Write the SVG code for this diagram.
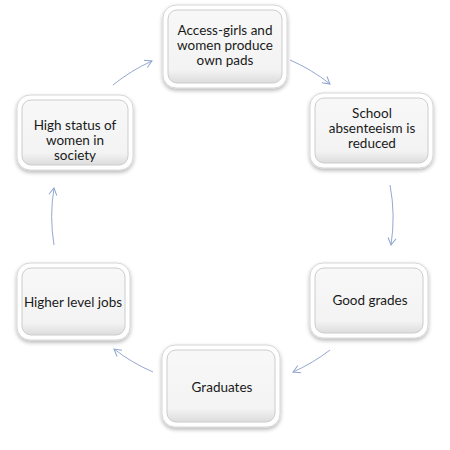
<svg xmlns="http://www.w3.org/2000/svg" width="450" height="450" viewBox="0 0 450 450">
<defs>
<linearGradient id="g" x1="0" y1="0" x2="0" y2="1">
<stop offset="0" stop-color="#f8f8f8"/>
<stop offset="0.82" stop-color="#f3f3f3"/>
<stop offset="1" stop-color="#dcdcdc"/>
</linearGradient>
<filter id="sh" x="-10%" y="-10%" width="120%" height="125%">
<feGaussianBlur in="SourceAlpha" stdDeviation="2"/>
<feOffset dy="1.5"/>
<feComponentTransfer><feFuncA type="linear" slope="0.3"/></feComponentTransfer>
<feMerge><feMergeNode/><feMergeNode in="SourceGraphic"/></feMerge>
</filter>
<marker id="ah" markerWidth="10" markerHeight="10" refX="8" refY="5" orient="auto" markerUnits="userSpaceOnUse">
<path d="M1,1 L8,5 L1,9" fill="none" stroke="#8ea3cc" stroke-width="1"/>
</marker>
</defs>
<style>
.outer{fill:#ffffff;stroke:#d6d6d6;stroke-width:1;filter:url(#sh)}
.inner{fill:url(#g);stroke:#cccccc;stroke-width:1}
.t{font-family:Lato,"Liberation Sans",sans-serif;font-size:13.5px;fill:#1a1a1a;text-anchor:middle}
.c{fill:none;stroke:#95a8d0;stroke-width:1;marker-end:url(#ah)}
</style>
<rect width="450" height="450" fill="#ffffff"/>
<g id="connectors">
<path class="c" d="M113,85 A178,178 0 0 1 152,61"/>
<path class="c" d="M290,60 A178,178 0 0 1 330,84"/>
<path class="c" d="M390,185 A175,175 0 0 1 391,245"/>
<path class="c" d="M330,350 A178,178 0 0 1 293,372"/>
<path class="c" d="M153,372 A178,178 0 0 1 114,349"/>
<path class="c" d="M54,245 A175,175 0 0 1 54,188"/>
</g>
<g id="n1">
<rect class="outer" x="163" y="5" width="124" height="83" rx="13"/>
<rect class="inner" x="168" y="10" width="114" height="73" rx="9"/>
<text class="t" x="225" y="35">Access-girls and</text>
<text class="t" x="225" y="50">women produce</text>
<text class="t" x="225" y="65">own pads</text>
</g>
<g id="n2">
<rect class="outer" x="310" y="93" width="123" height="75" rx="13"/>
<rect class="inner" x="315" y="98" width="113" height="65" rx="9"/>
<text class="t" x="372" y="118">School</text>
<text class="t" x="372" y="133">absenteeism is</text>
<text class="t" x="372" y="148">reduced</text>
</g>
<g id="n3">
<rect class="outer" x="310" y="263" width="118" height="75" rx="13"/>
<rect class="inner" x="315" y="268" width="108" height="65" rx="9"/>
<text class="t" x="370" y="305">Good grades</text>
</g>
<g id="n4">
<rect class="outer" x="162" y="345" width="118" height="82" rx="13"/>
<rect class="inner" x="167" y="350" width="108" height="72" rx="9"/>
<text class="t" x="222" y="392">Graduates</text>
</g>
<g id="n5">
<rect class="outer" x="17" y="263" width="113" height="77" rx="13"/>
<rect class="inner" x="22" y="268" width="103" height="67" rx="9"/>
<text class="t" x="73" y="307">Higher level jobs</text>
</g>
<g id="n6">
<rect class="outer" x="17" y="95" width="116" height="75" rx="13"/>
<rect class="inner" x="22" y="100" width="106" height="65" rx="9"/>
<text class="t" x="75" y="130">High status of</text>
<text class="t" x="75" y="145">women in</text>
<text class="t" x="75" y="160">society</text>
</g>
</svg>
